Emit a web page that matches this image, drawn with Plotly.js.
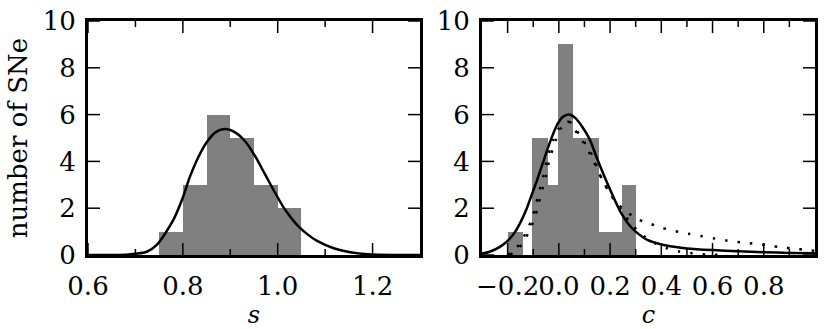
<script src="https://cdn.plot.ly/plotly-3.0.1.min.js"></script>
<style>
  body { margin: 0; background: #fff; }
  #chart { width: 830px; height: 329px; }
</style>
<div id="chart"></div>
<script>
// left panel: stretch s
const sBinLeft = [0.75, 0.80, 0.85, 0.90, 0.95, 1.00];
const sBinWidth = [0.05, 0.05, 0.05, 0.05, 0.05, 0.05];
const sCounts = [1, 3, 6, 5, 3, 2];

const sFitX = [0.60, 0.68, 0.70, 0.724, 0.745, 0.78, 0.798, 0.815, 0.833, 0.851, 0.868, 0.889,
  0.911, 0.932, 0.953, 0.974, 0.995, 1.016, 1.041, 1.065, 1.083, 1.118, 1.153, 1.19, 1.25, 1.30];
const sFitY = [0, 0.01, 0.05, 0.14, 0.43, 1.5, 2.35, 3.35, 4.2, 4.84, 5.23, 5.38,
  5.23, 4.84, 4.2, 3.42, 2.64, 1.92, 1.28, 0.85, 0.6, 0.29, 0.12, 0.03, 0, 0];

// right panel: colour c
const cBinLeft = [-0.20, -0.104, -0.043, -0.004, 0.056, 0.156, 0.245];
const cBinWidth = [0.06, 0.061, 0.039, 0.060, 0.100, 0.089, 0.055];
const cCounts = [1, 5, 3, 9, 5, 1, 3];

const cFitX = [-0.30, -0.27, -0.23, -0.20, -0.17, -0.145, -0.125, -0.105, -0.085, -0.065, -0.045,
  -0.025, -0.005, 0.015, 0.04, 0.065, 0.09, 0.12, 0.15, 0.18, 0.21, 0.24, 0.27, 0.30, 0.35,
  0.40, 0.45, 0.50, 0.60, 0.70, 0.80, 0.90, 1.00];
const cFitY = [0.06, 0.14, 0.35, 0.6, 1.0, 1.5, 2.0, 2.6, 3.2, 3.85, 4.5,
  5.1, 5.6, 5.9, 6.0, 5.85, 5.5, 4.95, 4.1, 3.3, 2.55, 1.85, 1.35, 1.0, 0.62,
  0.45, 0.35, 0.28, 0.21, 0.16, 0.12, 0.09, 0.07];

// dotted, long tail
const cDotAX = [-0.20, -0.185, -0.15, -0.125, -0.105, -0.09, -0.076, -0.06, -0.047, -0.035, -0.022,
  0.0, 0.035, 0.072, 0.098, 0.124, 0.17, 0.196, 0.222, 0.257, 0.304, 0.353, 0.40, 0.45, 0.505,
  0.56, 0.61, 0.66, 0.71, 0.77, 0.82, 0.87, 0.92, 0.97, 1.0];
const cDotAY = [0, 0.14, 0.5, 1.05, 1.55, 2.14, 2.75, 3.4, 4.06, 4.49, 4.91,
  5.41, 5.7, 5.2, 4.77, 4.27, 3.2, 2.7, 2.28, 1.92, 1.55, 1.35, 1.17, 1.03, 0.91,
  0.80, 0.70, 0.61, 0.54, 0.47, 0.40, 0.33, 0.27, 0.21, 0.18];

// dotted, short tail
const cDotBX = [-0.19, -0.175, -0.14, -0.115, -0.095, -0.08, -0.066, -0.05, -0.037, -0.025, -0.012,
  0.008, 0.04, 0.077, 0.103, 0.13, 0.17, 0.196, 0.222, 0.257, 0.29, 0.33, 0.375, 0.421, 0.473,
  0.525, 0.58, 0.65];
const cDotBY = [0, 0.14, 0.5, 1.05, 1.55, 2.14, 2.75, 3.4, 4.06, 4.49, 4.91,
  5.41, 5.7, 5.2, 4.77, 4.27, 3.2, 2.7, 2.28, 1.71, 1.24, 0.83, 0.5, 0.29, 0.14,
  0.07, 0.02, 0];

const sTickVals = [0.6, 0.8, 1.0, 1.2];
const sMinorVals = [0.7, 0.9, 1.1];
const cTickVals = [-0.2, 0.0, 0.2, 0.4, 0.6, 0.8];
const cMinorVals = [-0.1, 0.1, 0.3, 0.5, 0.7, 0.9];
const countTicks = [0, 2, 4, 6, 8, 10];

const FONT = 'DejaVu Serif';
const barColor = '#808080';
const sRange = [0.6, 1.3];
const cRange = [-0.3, 1.0];
const countRange = [0, 10];

// plot area size in pixels, used to turn tick lengths into axis units
const plotH = 234, plotW = 332;

// tick marks on all four sides, as one line trace with breaks
function tickTrace(xa, ya, xRange, xVals, xMinor, yVals) {
  const xs = [], ys = [];
  const ky = (countRange[1] - countRange[0]) / plotH;
  const kx = (xRange[1] - xRange[0]) / plotW;
  function addX(v, len) {
    xs.push(v, v, null, v, v, null);
    ys.push(countRange[0], countRange[0] + len * ky, null, countRange[1], countRange[1] - len * ky, null);
  }
  xVals.forEach(v => addX(v, 12));
  xMinor.forEach(v => addX(v, 6));
  yVals.forEach(v => {
    xs.push(xRange[0], xRange[0] + 12 * kx, null, xRange[1], xRange[1] - 12 * kx, null);
    ys.push(v, v, null, v, v, null);
  });
  return { type: 'scatter', mode: 'lines', x: xs, y: ys, connectgaps: false, cliponaxis: false,
    line: { color: '#000', width: 1.5 }, hoverinfo: 'skip', xaxis: xa, yaxis: ya };
}

const traces = [
  { type: 'bar', x: sBinLeft, y: sCounts, width: sBinWidth, offset: 0,
    marker: { color: barColor, line: { width: 0 } }, xaxis: 'x', yaxis: 'y' },
  { type: 'scatter', mode: 'lines', x: sFitX, y: sFitY,
    line: { color: '#000', width: 2.5, shape: 'spline', smoothing: 0.8 }, xaxis: 'x', yaxis: 'y' },
  { type: 'bar', x: cBinLeft, y: cCounts, width: cBinWidth, offset: 0,
    marker: { color: barColor, line: { width: 0 } }, xaxis: 'x2', yaxis: 'y2' },
  { type: 'scatter', mode: 'lines', x: cDotAX, y: cDotAY,
    line: { color: '#000', width: 2.5, dash: '2.5px,10px', shape: 'spline', smoothing: 0.8 },
    xaxis: 'x2', yaxis: 'y2' },
  { type: 'scatter', mode: 'lines', x: cDotBX, y: cDotBY,
    line: { color: '#000', width: 2.5, dash: '2.5px,10px', shape: 'spline', smoothing: 0.8 },
    xaxis: 'x2', yaxis: 'y2' },
  { type: 'scatter', mode: 'lines', x: cFitX, y: cFitY,
    line: { color: '#000', width: 2.5, shape: 'spline', smoothing: 0.8 }, xaxis: 'x2', yaxis: 'y2' },
  tickTrace('x', 'y', sRange, sTickVals, sMinorVals, countTicks),
  tickTrace('x2', 'y2', cRange, cTickVals, cMinorVals, countTicks)
];

function xAxis(domain, range, vals, title, anchor) {
  return {
    domain: domain, range: range, anchor: anchor,
    tickvals: vals, tickformat: '.1f', tickangle: 0, ticks: '',
    showline: true, linewidth: 3, linecolor: '#000', mirror: true,
    showgrid: false, zeroline: false, automargin: false,
    ticklabelstandoff: 6,
    tickfont: { family: FONT, size: 26, color: '#000' },
    title: { text: title, standoff: 2, font: { family: FONT, size: 24, color: '#000' } }
  };
}

function yAxis(domain, anchor, title) {
  return {
    domain: domain, range: countRange, anchor: anchor,
    tickvals: countTicks, ticks: '',
    showline: true, linewidth: 3, linecolor: '#000', mirror: true,
    showgrid: false, zeroline: false, automargin: false,
    ticklabelstandoff: 4,
    tickfont: { family: FONT, size: 26, color: '#000' },
    title: { text: title, standoff: 8, font: { family: FONT, size: 26, color: '#000' } }
  };
}

const layout = {
  width: 830, height: 329,
  margin: { l: 0, r: 0, t: 0, b: 0 },
  paper_bgcolor: '#fff', plot_bgcolor: '#fff',
  showlegend: false, bargap: 0,
  xaxis: xAxis([0.10602, 0.50602], sRange, sTickVals, '<i>s</i>', 'y'),
  yaxis: yAxis([0.22492, 0.93617], 'x', 'number of SNe'),
  xaxis2: xAxis([0.58072, 0.98193], cRange, cTickVals, '<i>c</i>', 'y2'),
  yaxis2: yAxis([0.22492, 0.93617], 'x2', '')
};

Plotly.newPlot('chart', traces, layout, { staticPlot: true });
</script>
